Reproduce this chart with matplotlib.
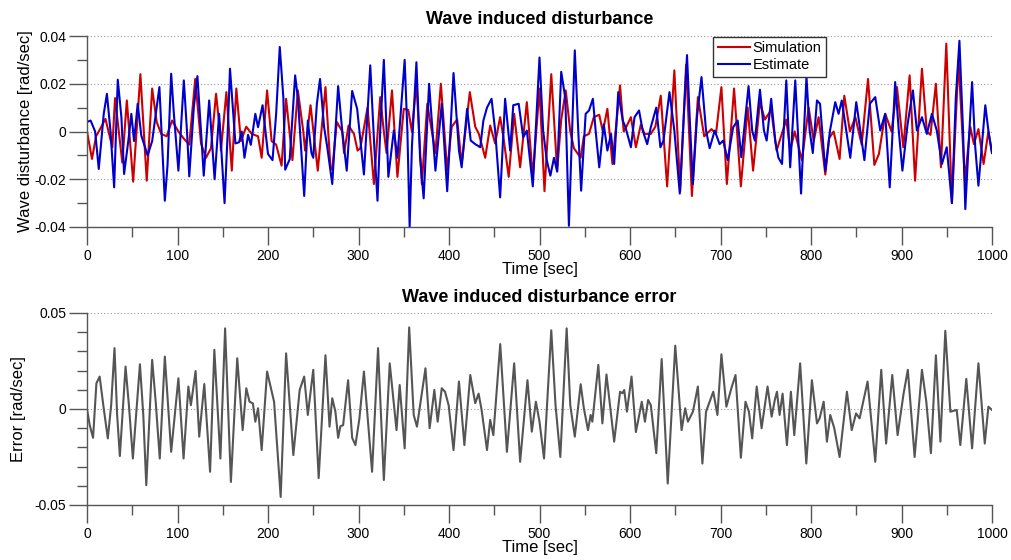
import matplotlib
matplotlib.use("Agg")
import matplotlib.pyplot as plt
from matplotlib.ticker import MultipleLocator, FixedLocator, FixedFormatter

plt.rcParams['font.family'] = ['Liberation Sans', 'DejaVu Sans']

# ---------------- data (unit 1e-3 rad/sec) -----------
sim_t = [0, 5.5, 10, 13, 20.4, 28, 31, 39, 44, 51, 59, 66, 72, 77, 82, 88, 94, 101, 107, 113,
         119.6, 126, 131.5, 137, 142.6, 147, 148, 154, 160, 165, 170, 176, 182, 189, 193, 199,
         204, 209, 215, 220, 227, 233, 239, 241, 247, 255, 263.5, 269, 271, 276, 282, 284, 289,
         295, 299, 302, 310, 317, 324, 328, 331, 337, 343, 350, 355, 359, 364, 370, 376, 385,
         391, 398, 403, 409, 414, 423, 429, 433, 440, 445.5, 451, 456.5, 460, 466, 472, 478.6,
         486, 492.6, 500, 505.5, 513, 519.5, 524, 529, 534, 538, 545.5, 549, 554.7, 560, 566,
         570, 575, 580.6, 589, 593, 596, 601, 606.5, 612, 616, 623, 628, 634, 641, 649, 655.5,
         662, 668.4, 675, 682, 690, 695, 701, 707, 715, 722.5, 730, 736, 743.6, 749, 756, 762,
         772.7, 777, 782, 790, 797.4, 803, 808.4, 815.8, 820, 825, 831.6, 836.8, 843, 849, 856,
         863, 870, 875, 882, 889, 895, 902, 909, 915, 922.6, 928, 932, 938, 943.6, 949.5, 955.7,
         963, 970, 976, 980, 985, 990.7, 996, 1000]
sim_v = [0, -11.5, -2, 0, 5.3, -6.6, 14, -13, 13, -21, 24, -20.6, 18, 4, -1, -2, 4.6, 0, -3, -5.5,
         22, -5, -11, -7, 15.8, 0, -8, 16.5, -16.4, 18, -4, 2, -1, -2, -11, 17.2,
         -4, -5.5, -14.3, 13.7, -12, 17.2, 0, -8, 11, -16.4, 18.6, -15, -16, 4, 0, -9, 2.5,
         -1, -8, -7, 10, -22, 14.4, 0, -9, 17.2, -19, 9.5, 9, 0, 20.7, -22, 11.6, -9,
         20, -16.4, 2, 5, -13.6, 16.5, 2, -1, -11, 2.5, -5, 6, -2, -19, 7.4, -15,
         12.3, -19, 18, -25, 24, -16.4, 5, 17.2, 0, -7, -11, -2, -1, 6, 7,
         0, 9.5, -13.6, 19.3, 0, 2, 6, -6.6, 3, -1, -1, 2, 15, -23, 25.6, -25,
         28, -27, 14.4, -2, 1, -1, 18.6, -22, 18, -23, 10, -16.4, 12.3, 5, 9, -8,
         5, -8, 0, -12, 10, -4, 6, -18, -2.8, 0, -11.5, 15, 0, 6, -5.5,
         22, -14, -9.5, 7.4, 0, 18.6, -6.6, 23.5, -20.6, 26.3, 0, -1.4, 20, -15, 36.8, -30,
         30, -20.6, 2, -5.3, 1, -13.6, 0, -9]

est_t = [0, 4, 9, 13, 18.5, 22, 26, 30, 34, 38, 41, 46, 49, 52, 56, 60, 67, 72, 80, 86, 89, 93,
         96, 101, 107, 110.5, 113, 118, 122, 126, 129, 135, 141, 146, 152, 155.5, 158, 164, 168,
         171, 174, 178, 181, 186, 189, 194, 200, 205, 209, 213, 217, 219, 224, 230, 233, 240,
         244, 248, 250, 254, 257.5, 262, 265.5, 271, 277.5, 282, 287, 293, 298.5, 306, 313,
         317.5, 321, 324, 328, 331, 333, 339, 343, 351, 354, 356.5, 359, 364, 368, 372, 378,
         385, 392, 398, 405, 411, 414, 420, 424, 429, 434.5, 438, 442, 447, 451, 456.5, 462,
         467.6, 471, 477, 482, 486, 492.6, 500, 504, 508, 512, 516, 519.5, 524, 528.5, 532.5,
         536, 539, 542.5, 546, 551, 554.7, 559, 562, 566, 571, 575, 579, 582.5, 587, 592, 595,
         601, 605, 610, 614, 619, 623, 629, 633.6, 637, 643.6, 649, 655, 663, 666.6, 669.5, 674,
         679, 684, 688, 693.6, 699, 703, 708, 714, 719, 723, 731, 735, 738, 743.6, 748, 751,
         756, 760.5, 764, 768, 772.7, 777, 782.6, 789, 795, 798.5, 802, 806.6, 810, 815.8, 821,
         826.8, 830.5, 834, 839, 843.4, 850, 854.5, 859, 865, 871, 876.5, 882, 887, 893, 897,
         901, 906.7, 912.6, 917, 922.6, 928, 933.6, 939, 944.7, 950, 955.7, 960, 964, 968,
         970.5, 974, 978, 981.5, 985, 992.6, 996, 1000]
est_v = [4, 4.6, 0, -15.7, 7.4, 15.8, 0, -23.4, 21.7, 6, -17.8, -2.8, 7.4, -4, 11.6, -1.7, -10, -4,
         18.6, -29, -14, 24.2, 7.4, -16.4, 21.4, 0, -18.8, 10, 23.2, 0, -18.5, 13, -20, 7.4,
         -30, 0, 26.3, -5, -4.5, 0, -11, -1.4, -5.6, 7.4, 1.8, 11, -9.4, -12, 7.4, 35.4, 14,
         -16, -11.6, 23.5, 14, -27, 4.6, -9, -11, 11.6, 22, 1.8, -6.6, -22, 19, 0.4, -16.4,
         17, 9.5, -18, 27.7, -6.6, -29, 0.4, 30, 0.4, -19, 0.4, -11, 30, 0.4, -40, -6.6, 29,
         -10.8, -28, 20, -16.4, 11.6, -25, 24.5, -8, -15, 9.5, -3.8, -5.3, -6.6, 4.6, 10,
         13.7, 0.4, -27.6, 13.7, -8, 11, 11.6, -2.4, 0.4, -23, 31, 0.4, -12, -18.5, -11,
         -16.8, 25, 14, -39.5, 0.4, 34, 3, -24.8, 7.4, 8.8, 13.7, 0.4, -15, 3, -8, -1,
         -13.6, 16.5, 4.6, 1.8, -6.6, 6, 8.8, 0.4, -5.3, 1.8, 10, -6.6, -3.8, 16.5, 0.4, -26,
         32, 0.4, -22, 6, 22.8, 0.4, -7, 0.4, -5.3, -3.8, -12, 1.8, 4.6, -10.8, 19, 0.4,
         -3.8, 17.5, 0.4, -3.8, 13.7, -4, -11, -13.6, 21.4, -15, 21.4, -26, 22.8, 0.4, -9,
         13, 11.6, -16.4, 0.4, 12.3, 7.4, 13, 0.4, -11, 12.3, 0.4, -12, 11.6, 14.4, 0.4,
         7.4, -23.4, 20.7, 0.4, -16.4, 3, 17.2, 0.4, 6, -1, 7.4, 0.4, -13.6, -6.6, -30, 14,
         38, 0.4, -32.5, -6.6, 20.7, -6.6, -22.7, 11, 0.4, -9]

err_t = [0, 3, 6.7, 10.4, 14, 18, 23, 26.7, 30.4, 33.3, 36.3, 42.6, 46.3, 50.7, 53.7, 58.5, 62.2,
         65.5, 72, 75.9, 80.4, 86, 89.6, 93, 101, 106.7, 112, 114.8, 120, 124, 129.6, 136, 140.7,
         147.4, 152.6, 159, 166, 172, 176, 179.6, 183.3, 186, 189, 193, 199, 206.7, 214, 220,
         228, 235, 240, 244, 250, 256, 263.5, 268, 271, 274.5, 277.5, 280, 283, 288.5, 293,
         296.6, 301, 306, 315, 321.6, 328, 334.5, 342, 345.5, 351, 356, 361, 364.6, 374, 378.6,
         383.8, 387.5, 392, 395.6, 399.6, 405, 411, 417, 423.5, 429, 432.7, 436, 442, 445.5, 449,
         456.6, 464, 472, 478.6, 486.7, 491.5, 496, 500, 505, 513, 517.7, 523, 530, 534, 539,
         545.5, 549, 553.6, 556.5, 558.4, 565, 569.5, 574, 582.5, 589, 591.7, 593.6, 596.6,
         601.7, 606.5, 608.4, 613, 616.5, 620, 623, 629, 635, 641.7, 650, 657, 661, 664, 669.5,
         675, 680, 684, 692, 696.6, 701, 706.5, 712, 716.6, 722.5, 727.6, 731.4, 735, 740,
         745.4, 752, 756.5, 760, 762.4, 765.3, 768.6, 773.4, 777.8, 781.5, 788, 794.8, 801,
         806.6, 809.5, 814, 817.6, 821.3, 825.7, 831.6, 839.7, 845, 849.8, 853.7, 862.5, 871,
         877.6, 883, 889.8, 895.7, 902.3, 907, 914.5, 922.6, 927.4, 932.5, 938, 943, 948.4,
         954, 961, 965, 971.6, 978, 985, 992, 996, 1000]
err_v = [0, -8.4, -15, 13.4, 16.9, 2, -15.3, 2, 31.7, -3.1, -24.5, 22.1, 2, -25.8, -6.6, 23.3, -3.1,
         -39.7, 25.6, 3.8, -25.8, 27.3, 2, -22.3, 16, -25.8, 11.7, 2, 19.8, -14.4, 13, -32.7, 30.8,
         -25.8, 42, -38, 26.4, -11, 10.8, 3.8, 2.9, -6.6, 0.4, -21.4, 19.5, 3.8, -45.8, 29,
         -24, 9.9, 16.9, -3.1, 20.4, -36, 28, -9.2, 5.6, -1.4, -15, -9, -8.4, 15, -15,
         -18.8, -5, 19.5, -32.7, 31.7, -37, 23.8, -11, 12.5, -20.5, 42.5, -3.1, -9.2, 21.2, -10,
         9.9, -6.6, 10.8, 9, 2, -21.4, 14.3, -18.8, 17.7, 3, 8, -0.4, -21.4, -5.7, -13.6,
         33.8, -22.3, 23.8, -27.5, 15, -11.8, 3.8, -6.6, -25.8, 41, 2, -25, 42, 2, -14.4,
         12.9, 0.4, -11, -3.1, -6.6, 23, -7.5, 18, -17, 9, 8.2, 9.9, -1.4,
         16.9, -12, -7.5, 3.8, -6.6, 4.7, 2, -23, 26, -38.8, 33, -11, 0.4, -6.6, -1.4,
         11.7, -28.4, -1.4, 9, -3.1, 28.5, 1.2, 10.8, 17.7, -25.4, 3.8, -1.4, -15.3, 11.7,
         -10, 11.7, -4, 4.7, 9, -3.1, 8, -18.8, 9, -13.6, 23.8, -28.4, 15,
         -7.5, -4.9, 3.8, -17, -3.1, -10, -25, 9, -11, -2.3, -4.9, 14.3, -27.5,
         20.4, -18, 17.7, -13.6, 8, 20.4, -25, 20.4, 3.8, -23, 28, -17, 40.7,
         -1.4, -0.5, -18.8, 15.7, -20.5, 23.8, -18, 1.2, -0.5]

top_yticks = [-0.04, -0.02, 0, 0.02, 0.04]
top_ylabels = ['-0.04', '-0.02', '0', '0.02', '0.04']
bot_yticks = [-0.05, 0, 0.05]
bot_ylabels = ['-0.05', '0', '0.05']
x_ticks = [0, 100, 200, 300, 400, 500, 600, 700, 800, 900, 1000]

SCALE = 1e-3
RED = '#cc0000'
BLUE = '#0000cc'
GRAY = '#555555'
AXC = '#555555'

fig = plt.figure(figsize=(10.12, 5.6), dpi=100)
ax1 = fig.add_axes([87/1012, 1-227/560, 905/1012, 191/560])
ax2 = fig.add_axes([87/1012, 1-505/560, 905/1012, 192/560])


def style(ax, yticks, ylabels, ylim, yminor):
    ax.set_xlim(0, 1000)
    ax.set_ylim(*ylim)
    for s in ['top', 'right']:
        ax.spines[s].set_visible(False)
    for s in ['left', 'bottom']:
        ax.spines[s].set_color(AXC)
        ax.spines[s].set_linewidth(1.0)
    ax.yaxis.set_major_locator(FixedLocator(yticks))
    ax.yaxis.set_major_formatter(FixedFormatter(ylabels))
    ax.yaxis.set_minor_locator(MultipleLocator(yminor))
    ax.xaxis.set_major_locator(FixedLocator(x_ticks))
    ax.xaxis.set_minor_locator(MultipleLocator(50))
    ax.tick_params(axis='both', which='major', direction='out', length=13, width=1.0,
                   color=AXC, labelsize=10, pad=2)
    ax.tick_params(axis='both', which='minor', direction='out', length=7, width=1.0,
                   color=AXC)
    ax.tick_params(axis='x', which='major', pad=3)
    ax.grid(axis='y', which='major', linestyle=(0, (1, 2)), color='#999999', linewidth=0.8)
    ax.set_axisbelow(True)
    ax.set_xlabel('Time [sec]', fontsize=12, labelpad=-1)


style(ax1, top_yticks, top_ylabels, (-0.04, 0.04), 0.01)
style(ax2, bot_yticks, bot_ylabels, (-0.05, 0.05), 0.01)

ax1.plot(sim_t, [v * SCALE for v in sim_v], color=RED, lw=1.5, label='Simulation')
ax1.plot(est_t, [v * SCALE for v in est_v], color=BLUE, lw=1.5, label='Estimate')
ax2.plot(err_t, [v * SCALE for v in err_v], color=GRAY, lw=1.5)

ax1.set_title('Wave induced disturbance', fontsize=13, fontweight='bold', pad=9)
ax2.set_title('Wave induced disturbance error', fontsize=13, fontweight='bold', pad=8)
ax1.set_ylabel('Wave disturbance [rad/sec]', fontsize=12, labelpad=1)
ax2.set_ylabel('Error [rad/sec]', fontsize=12, labelpad=6)

leg = ax1.legend(loc='upper left', bbox_to_anchor=(0.692, 0.995), fontsize=10.5,
                 handlelength=2.2, handletextpad=0.2, borderpad=0.3, labelspacing=0.2,
                 fancybox=False, framealpha=1, borderaxespad=0)
leg.get_frame().set_edgecolor('#333333')
leg.get_frame().set_linewidth(1.0)

fig.savefig('out.png', dpi=100)
